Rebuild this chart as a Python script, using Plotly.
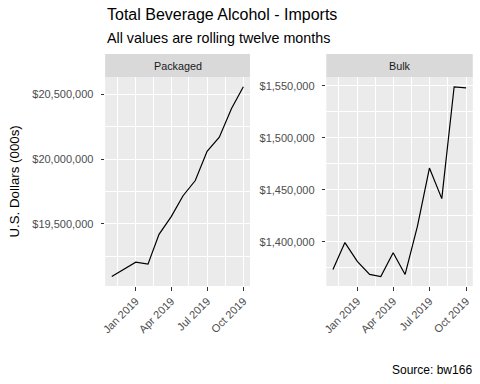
import pandas as pd
import plotly.graph_objects as go

months = ["2018-11-01", "2018-12-01", "2019-01-01", "2019-02-01", "2019-03-01", "2019-04-01",
          "2019-05-01", "2019-06-01", "2019-07-01", "2019-08-01", "2019-09-01", "2019-10-01"]
packaged = [19095000, 19150000, 19206000, 19190000, 19420000, 19557000,
            19718000, 19835000, 20060000, 20169000, 20390000, 20558000]
bulk = [1373600, 1399400, 1381300, 1368800, 1366800, 1389700,
        1368800, 1415200, 1471000, 1441600, 1549000, 1548000]

x_ticks = ["2019-01-01", "2019-04-01", "2019-07-01", "2019-10-01"]
x_minor = ["2018-11-16", "2019-02-15", "2019-05-16", "2019-08-16"]
pk_ticks = [19500000, 20000000, 20500000]
pk_minor = [19250000, 19750000, 20250000]
bk_ticks = [1400000, 1450000, 1500000, 1550000]
bk_minor = [1375000, 1425000, 1475000, 1525000]

title = "Total Beverage Alcohol - Imports"
subtitle = "All values are rolling twelve months"
facets = ["Packaged", "Bulk"]
y_title = "U.S. Dollars (000s)"
caption = "Source: bw166"

FONT = "Liberation Sans, Arial, sans-serif"
W, H = 480, 384

def expand(vals):
    lo, hi = min(vals), max(vals)
    d = (hi - lo) * 0.05
    return [lo - d, hi + d]

dts = pd.to_datetime(months)
span = dts.max() - dts.min()
x_range = [(dts.min() - span * 0.05), (dts.max() + span * 0.05)]

fig = go.Figure()
fig.add_trace(go.Scatter(x=months, y=packaged, mode="lines",
                         line=dict(color="black", width=1.2), xaxis="x", yaxis="y",
                         showlegend=False, hoverinfo="skip"))
fig.add_trace(go.Scatter(x=months, y=bulk, mode="lines",
                         line=dict(color="black", width=1.2), xaxis="x2", yaxis="y2",
                         showlegend=False, hoverinfo="skip"))

px = lambda v: v / W
py = lambda v: 1 - v / H

panel_top, panel_bot = 77.3, 286
strip_top = 54
panels = [(102, 248), (325, 472.7)]
TICK_SIZE = 11

def xaxis(dom):
    return dict(domain=[px(dom[0]), px(dom[1])], type="date", range=x_range,
                tickmode="array", tickvals=x_ticks, tickformat="%b %Y", tickangle=-45,
                ticks="outside", ticklen=3.5, tickwidth=1.1, tickcolor="#333333",
                tickfont=dict(family=FONT, size=TICK_SIZE, color="#4D4D4D"),
                showgrid=True, gridcolor="white", gridwidth=1.3,
                minor=dict(tickmode="array", tickvals=x_minor, showgrid=True,
                           gridcolor="white", gridwidth=0.6),
                showline=False, zeroline=False, fixedrange=True)

def yaxis(ticks, minor, rng, anchor):
    return dict(domain=[py(panel_bot), py(panel_top)], range=rng, anchor=anchor,
                tickmode="array", tickvals=ticks, tickformat="$,.0f",
                ticks="outside", ticklen=3.5, tickwidth=1.1, tickcolor="#333333",
                ticklabelstandoff=5,
                tickfont=dict(family=FONT, size=TICK_SIZE, color="#4D4D4D"),
                showgrid=True, gridcolor="white", gridwidth=1.3,
                minor=dict(tickmode="array", tickvals=minor, showgrid=True,
                           gridcolor="white", gridwidth=0.6),
                showline=False, zeroline=False, fixedrange=True)

fig.update_layout(
    width=W, height=H, margin=dict(l=0, r=0, t=0, b=0),
    paper_bgcolor="white", plot_bgcolor="#EBEBEB",
    xaxis=dict(xaxis(panels[0]), anchor="y"),
    xaxis2=dict(xaxis(panels[1]), anchor="y2"),
    yaxis=yaxis(pk_ticks, pk_minor, expand(packaged), "x"),
    yaxis2=yaxis(bk_ticks, bk_minor, expand(bulk), "x2"),
)

shapes = []
annotations = []
for (x0, x1), name in zip(panels, facets):
    shapes.append(dict(type="rect", xref="paper", yref="paper",
                       x0=px(x0), x1=px(x1), y0=py(panel_top), y1=py(strip_top),
                       fillcolor="#D9D9D9", line=dict(width=0), layer="below"))
    annotations.append(dict(text=name, xref="paper", yref="paper",
                            x=px((x0 + x1) / 2), y=py((strip_top + panel_top) / 2),
                            xanchor="center", yanchor="middle", showarrow=False,
                            font=dict(family=FONT, size=10.8, color="#1A1A1A")))

annotations.append(dict(text=title, xref="paper", yref="paper", x=px(102), y=py(14.5),
                        xanchor="left", yanchor="middle", showarrow=False,
                        font=dict(family=FONT, size=16, color="black")))
annotations.append(dict(text=subtitle, xref="paper", yref="paper", x=px(102), y=py(37.5),
                        xanchor="left", yanchor="middle", showarrow=False,
                        font=dict(family=FONT, size=14.3, color="black")))
annotations.append(dict(text=y_title, xref="paper", yref="paper", x=px(11),
                        y=py((panel_top + panel_bot) / 2), textangle=-90,
                        xanchor="center", yanchor="middle", showarrow=False,
                        font=dict(family=FONT, size=13.3, color="black")))
annotations.append(dict(text=caption, xref="paper", yref="paper", x=px(473.5), y=py(370),
                        xanchor="right", yanchor="middle", showarrow=False,
                        font=dict(family=FONT, size=12, color="black")))

fig.update_layout(shapes=shapes, annotations=annotations)
fig.write_html("out.html", config={"displayModeBar": False},
               post_script="document.body.style.margin='0';document.body.style.padding='0';"
                           "document.documentElement.style.overflow='hidden';")
